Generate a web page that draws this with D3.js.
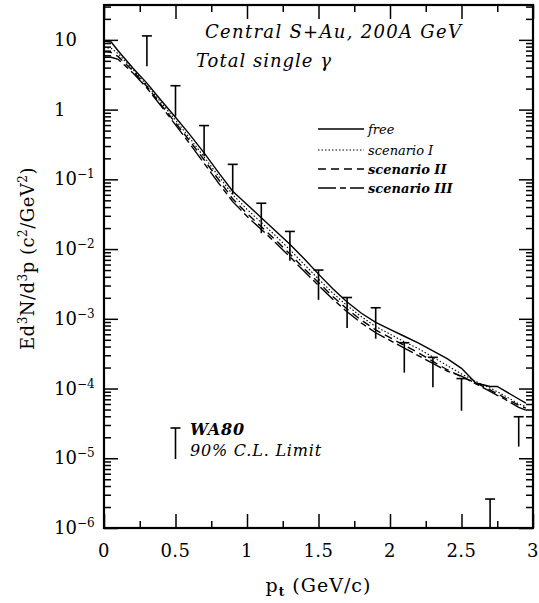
<!DOCTYPE html>
<html><head><meta charset="utf-8">
<script src="https://cdn.jsdelivr.net/npm/d3@7"></script>
<style>
html,body{margin:0;padding:0;background:#fff;}
svg text{font-family:"DejaVu Serif",serif;fill:#000;}
</style></head>
<body><svg id="c" width="539" height="603"></svg>
<script>
// ---- data ----
const ptGrid = [0,0.05,0.1,0.2,0.3,0.4,0.5,0.6,0.7,0.8,0.9,1.0,1.1,1.2,1.3,1.4,1.5,1.6,1.7,1.8,1.9,2.0,2.1,2.2,2.3,2.4,2.5,2.6,2.7,2.75,2.8,2.9,2.95];
const freeVals = [9.55,9.33,6.92,3.98,2.40,1.35,0.776,0.437,0.240,0.126,0.0676,0.0437,0.0282,0.0182,0.0117,0.00724,0.00437,0.00269,0.00174,0.00120,0.000891,0.000708,0.000562,0.000447,0.000347,0.000269,0.000195,0.000120,0.000107,0.000107,0.0000933,0.0000708,0.0000617];
const scen1Vals = [7.76,7.59,6.31,3.80,2.24,1.26,0.708,0.389,0.209,0.112,0.0603,0.0372,0.0240,0.0155,0.00977,0.00603,0.00372,0.00234,0.00155,0.00107,0.000776,0.000603,0.000468,0.000372,0.000282,0.000214,0.000162,0.000126,0.000102,0.0000900,0.0000794,0.0000603,0.0000550];
const scen2Vals = [6.76,6.61,5.75,3.63,2.14,1.17,0.646,0.355,0.191,0.100,0.0525,0.0324,0.0209,0.0135,0.00851,0.00525,0.00331,0.00209,0.00138,0.000955,0.000692,0.000537,0.000417,0.000324,0.000245,0.000186,0.000148,0.000120,0.0000955,0.0000840,0.0000741,0.0000575,0.0000525];
const scen3Vals = [5.62,5.62,5.25,3.39,2.04,1.12,0.603,0.324,0.170,0.0891,0.0479,0.0295,0.0191,0.0123,0.00776,0.00479,0.00302,0.00191,0.00126,0.000871,0.000631,0.000490,0.000380,0.000295,0.000229,0.000178,0.000151,0.000117,0.0000912,0.0000800,0.0000708,0.0000537,0.0000490];

const limitPt   = [0.3,0.5,0.7,0.9,1.1,1.3,1.5,1.7,1.9,2.1,2.3,2.5,2.7,2.9];
const limitHigh = [11.4,2.2,0.59,0.164,0.0454,0.0179,0.0050,0.00202,0.00144,0.000454,0.000280,0.000139,0.0000026,0.0000394];
const limitLow  = [4.2,0.80,0.215,0.061,0.0169,0.0068,0.00187,0.00074,0.000518,0.000169,0.000104,0.000048,0.000001,0.0000147];

const xTickLabels = ["0","0.5","1","1.5","2","2.5","3"];
const xTickValues = [0,0.5,1,1.5,2,2.5,3];
const yExponents = [1,0,-1,-2,-3,-4,-5,-6];
const legendNames = ["free","scenario I","scenario II","scenario III"];

// ---- layout ----
const svg = d3.select("#c");
const L=104, R=533, T=5, B=528;
const x = d3.scaleLinear().domain([0,3]).range([L,R]);
const y = d3.scaleLog().domain([1e-6, Math.pow(10,1.5)]).range([B,T]);

const styles = [
  {dash:null, w:1.4, color:"#000"},
  {dash:"1.5,2", w:1.1, color:"#000"},
  {dash:"8,5", w:1.4, color:"#000"},
  {dash:"18,4,6,4", w:1.4, color:"#000"}
];
const series = [freeVals, scen1Vals, scen2Vals, scen3Vals];

const plot = svg.append("g");
svg.append("defs").append("clipPath").attr("id","clip").append("rect")
  .attr("x",L).attr("y",T).attr("width",R-L).attr("height",B-T);

const line = d3.line().x((d,i)=>x(ptGrid[i])).y(d=>y(d));
const curves = plot.append("g").attr("clip-path","url(#clip)");
series.forEach((s,k)=>{
  curves.append("path").datum(s).attr("d",line)
    .attr("fill","none").attr("stroke",styles[k].color)
    .attr("stroke-width",styles[k].w)
    .attr("stroke-dasharray",styles[k].dash);
});

// upper-limit bars
const bars = plot.append("g").attr("stroke","#000").attr("stroke-width",1.6);
limitPt.forEach((p,i)=>{
  bars.append("line").attr("x1",x(p)).attr("x2",x(p)).attr("y1",y(limitLow[i])).attr("y2",y(limitHigh[i]));
  bars.append("line").attr("x1",x(p)-5).attr("x2",x(p)+5).attr("y1",y(limitHigh[i])).attr("y2",y(limitHigh[i]));
});

// ---- axes ----
const xMajor = d3.range(0,3.001,0.5);
const xMinor = d3.range(0.25,3,0.5);
const yMajor = yExponents.map(e=>Math.pow(10,e));
const yMinor = [];
for(let e=-6;e<=1;e++){ for(let m=2;m<=9;m++){ const v=m*Math.pow(10,e); if(v<=Math.pow(10,1.5)) yMinor.push(v);} }

function styleAxis(g){ g.select(".domain").remove(); g.selectAll("text").remove(); g.selectAll("line").attr("stroke","#000").attr("stroke-width",1.5); }
svg.append("g").attr("transform",`translate(0,${B})`).call(d3.axisBottom(x).tickValues(xMajor).tickSizeInner(-14).tickSizeOuter(0)).call(styleAxis);
svg.append("g").attr("transform",`translate(0,${B})`).call(d3.axisBottom(x).tickValues(xMinor).tickSizeInner(-7).tickSizeOuter(0)).call(styleAxis);
svg.append("g").attr("transform",`translate(0,${T})`).call(d3.axisTop(x).tickValues(xMajor).tickSizeInner(-14).tickSizeOuter(0)).call(styleAxis);
svg.append("g").attr("transform",`translate(0,${T})`).call(d3.axisTop(x).tickValues(xMinor).tickSizeInner(-7).tickSizeOuter(0)).call(styleAxis);
svg.append("g").attr("transform",`translate(${L},0)`).call(d3.axisLeft(y).tickValues(yMajor).tickSizeInner(-14).tickSizeOuter(0)).call(styleAxis);
svg.append("g").attr("transform",`translate(${L},0)`).call(d3.axisLeft(y).tickValues(yMinor).tickSizeInner(-7).tickSizeOuter(0)).call(styleAxis);
svg.append("g").attr("transform",`translate(${R},0)`).call(d3.axisRight(y).tickValues(yMajor).tickSizeInner(-14).tickSizeOuter(0)).call(styleAxis);
svg.append("g").attr("transform",`translate(${R},0)`).call(d3.axisRight(y).tickValues(yMinor).tickSizeInner(-7).tickSizeOuter(0)).call(styleAxis);

svg.append("rect").attr("x",L).attr("y",T).attr("width",R-L).attr("height",B-T)
  .attr("fill","none").attr("stroke","#000").attr("stroke-width",2.2);

// tick labels
xTickValues.forEach((v,i)=>{
  svg.append("text").attr("x",x(v)).attr("y",B+29).attr("text-anchor","middle")
    .attr("font-size",18).attr("letter-spacing",0.5).text(xTickLabels[i]);
});
yExponents.forEach(e=>{
  const t = svg.append("text").attr("x",54).attr("y",y(Math.pow(10,e))+6).attr("font-size",18);
  if(e===1) t.text("10");
  else if(e===0) t.text("1");
  else { t.append("tspan").text("10"); t.append("tspan").attr("dy",-7).attr("font-size",12).text("\u2212"+(-e)); }
});

// axis titles
const xt = svg.append("text").attr("x",(L+R)/2).attr("y",592).attr("text-anchor","middle").attr("font-size",19).attr("letter-spacing",1);
xt.append("tspan").text("p");
xt.append("tspan").attr("dy",4).attr("font-size",12).attr("font-weight","bold").text("t");
xt.append("tspan").attr("dy",-4).text(" (GeV/c)");

const yt = svg.append("text").attr("transform",`translate(34,${(T+B)/2-8}) rotate(-90)`).attr("text-anchor","middle").attr("font-size",18).attr("letter-spacing",0.5);
yt.append("tspan").text("Ed");
yt.append("tspan").attr("dy",-7).attr("font-size",12).text("3");
yt.append("tspan").attr("dy",7).text("N/d");
yt.append("tspan").attr("dy",-7).attr("font-size",12).text("3");
yt.append("tspan").attr("dy",7).text("p  (c");
yt.append("tspan").attr("dy",-7).attr("font-size",12).text("2");
yt.append("tspan").attr("dy",7).text("/GeV");
yt.append("tspan").attr("dy",-7).attr("font-size",12).text("2");
yt.append("tspan").attr("dy",7).text(")");

// annotations
svg.append("text").attr("x",205).attr("y",38).attr("font-size",18).attr("letter-spacing",1.3).attr("font-style","italic").text("Central S+Au, 200A GeV");
svg.append("text").attr("x",196).attr("y",67).attr("font-size",18).attr("letter-spacing",1).attr("font-style","italic").text("Total single \u03b3");

// legend
const lgY = [129,150,169,188];
const lgWeights = ["normal","normal","bold","bold"];
legendNames.forEach((n,k)=>{
  svg.append("line").attr("x1",318).attr("x2",364).attr("y1",lgY[k]).attr("y2",lgY[k])
    .attr("stroke","#000").attr("stroke-width",styles[k].w).attr("stroke-dasharray",styles[k].dash);
  svg.append("text").attr("x",368).attr("y",lgY[k]+5).attr("font-size",13)
    .attr("font-style","italic").attr("font-weight",lgWeights[k]).text(n);
});

// WA80 key
const kx = x(0.5);
svg.append("line").attr("x1",kx).attr("x2",kx).attr("y1",428).attr("y2",459).attr("stroke","#000").attr("stroke-width",1.6);
svg.append("line").attr("x1",kx-5).attr("x2",kx+5).attr("y1",428).attr("y2",428).attr("stroke","#000").attr("stroke-width",1.6);
svg.append("text").attr("x",190).attr("y",435).attr("font-size",16).attr("letter-spacing",0.8).attr("font-style","italic").attr("font-weight","bold").text("WA80");
svg.append("text").attr("x",190).attr("y",456).attr("font-size",16).attr("letter-spacing",0.8).attr("font-style","italic").text("90% C.L. Limit");
</script></body></html>
